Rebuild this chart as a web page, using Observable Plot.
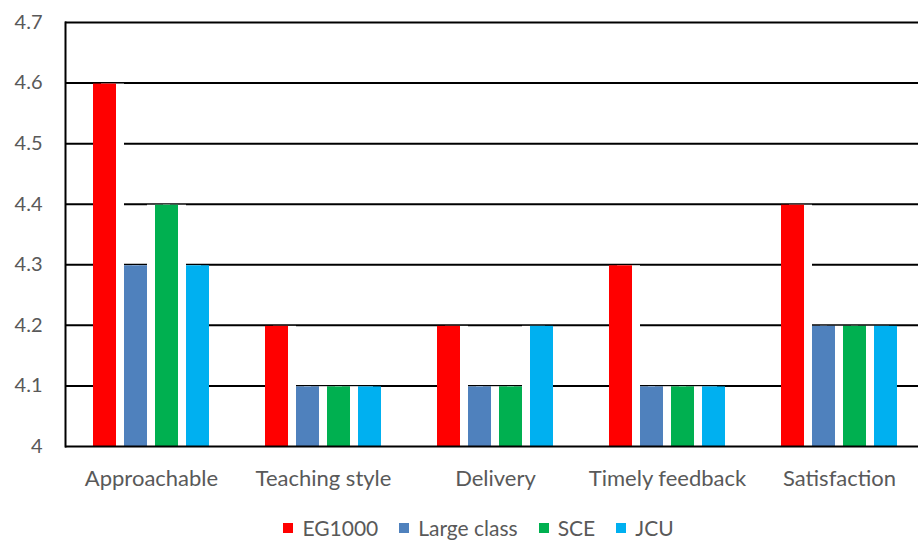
<!DOCTYPE html>
<html><head><meta charset="utf-8">
<script src="https://cdn.jsdelivr.net/npm/d3@7"></script>
<script src="https://cdn.jsdelivr.net/npm/@observablehq/plot@0.6"></script>
<style>
html,body{margin:0;padding:0;overflow:hidden;background:#fff;}
#wrap{width:918px;height:540px;overflow:hidden;position:relative;}
#wrap svg{max-width:none !important;display:block;}
.legend{display:flex;justify-content:center;align-items:center;box-sizing:border-box;padding-left:39px;width:918px;margin-top:16px;font-family:Lato,sans-serif;font-size:21px;color:#595959;line-height:24px;}
.legend .item{display:flex;align-items:center;margin:0 10.5px;}
.legend .sw{width:10px;height:10px;margin-right:9px;display:inline-block;}
</style></head>
<body><div id="wrap"></div>
<script>
const categories = ["Approachable", "Teaching style", "Delivery", "Timely feedback", "Satisfaction"];
const series = ["EG1000", "Large class", "SCE", "JCU"];
const colors = ["#FF0000", "#4F81BD", "#00B050", "#00B0F0"];
const EG1000 = [4.6, 4.2, 4.2, 4.3, 4.4];
const LargeClass = [4.3, 4.1, 4.1, 4.1, 4.2];
const SCE = [4.4, 4.1, 4.1, 4.1, 4.2];
const JCU = [4.3, 4.1, 4.2, 4.1, 4.2];
const yTicks = [4, 4.1, 4.2, 4.3, 4.4, 4.5, 4.6, 4.7];

const valuesBySeries = [EG1000, LargeClass, SCE, JCU];
const rows = [];
categories.forEach((c, i) => series.forEach((s, j) => rows.push({category: c, series: s, value: valuesBySeries[j][i]})));

const W = 927, H = 500, ML = 63, MR = 0;
const padIn = 0.25, padOut = 0.823;
const facetW = (W - ML - MR) / categories.length;
const step = facetW / (series.length - padIn + 2 * padOut);
const gap = step * padIn;

const notLast = rows.filter(d => d.series !== series[series.length - 1]);
const notFirst = rows.filter(d => d.series !== series[0]);

const chart = Plot.plot({
  width: W, height: H,
  marginTop: 22, marginBottom: 54, marginLeft: ML, marginRight: MR,
  style: {fontFamily: "Lato, sans-serif", fontSize: "20px", color: "#595959", background: "white", maxWidth: "none"},
  fx: {domain: categories, padding: 0},
  x: {domain: series, paddingInner: padIn, paddingOuter: padOut, axis: null},
  y: {domain: [4, 4.7]},
  color: {domain: series, range: colors},
  marks: [
    Plot.ruleY(yTicks.filter(t => t > 4), {stroke: "black", strokeWidth: 2}),
    Plot.barY(notLast, {fx: "category", x: "series", y1: 4, y2: "value", fill: "white", insetTop: 1, dx: gap}),
    Plot.barY(notFirst, {fx: "category", x: "series", y1: 4, y2: "value", fill: "white", insetTop: 1, dx: -gap}),
    Plot.barY(rows, {fx: "category", x: "series", y1: 4, y2: "value", fill: "series", insetTop: 1}),
    Plot.ruleY([4], {stroke: "black", strokeWidth: 2}),
    Plot.frame({anchor: "left", fx: () => categories[0], stroke: "black", strokeWidth: 2}),
    Plot.axisY({ticks: yTicks, tickFormat: d => String(+d.toFixed(1)), tickSize: 0, tickPadding: 23, fill: "#595959", label: null}),
    Plot.axisFx({anchor: "bottom", tickSize: 0, tickPadding: 24, fill: "#595959", fontSize: 22, label: null})
  ]
});
document.getElementById("wrap").appendChild(chart);

const legend = document.createElement("div");
legend.className = "legend";
series.forEach((s, i) => {
  const it = document.createElement("div");
  it.className = "item";
  const sw = document.createElement("span");
  sw.className = "sw";
  sw.style.background = colors[i];
  it.appendChild(sw);
  it.appendChild(document.createTextNode(s));
  legend.appendChild(it);
});
document.getElementById("wrap").appendChild(legend);
</script></body></html>
